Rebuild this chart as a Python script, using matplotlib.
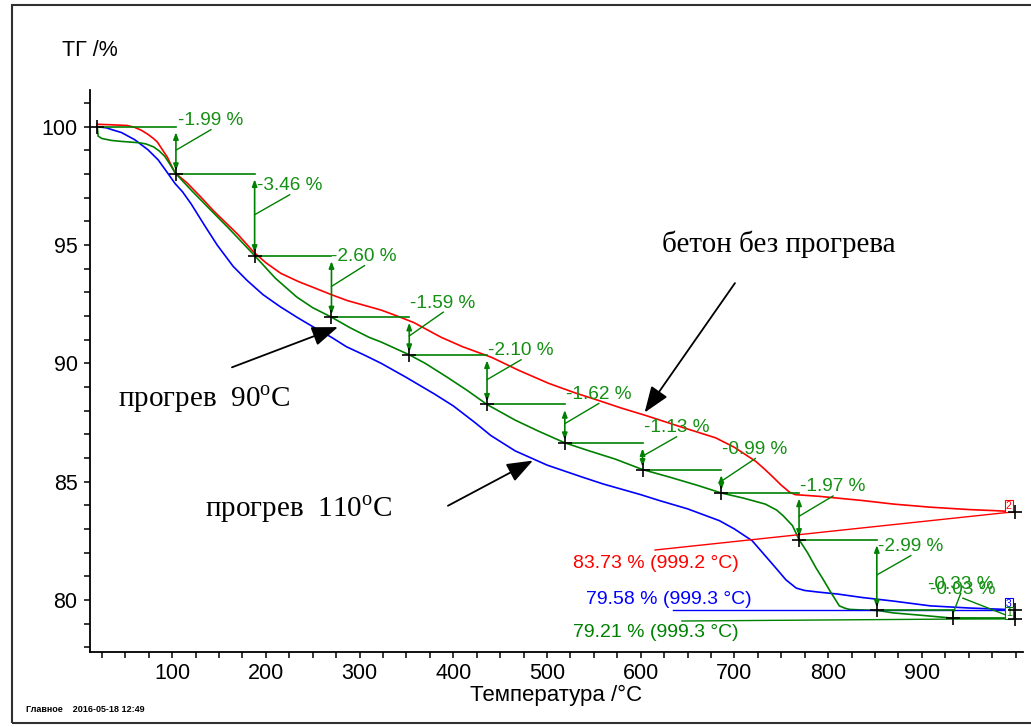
import numpy as np
import matplotlib
matplotlib.use('Agg')
import matplotlib.pyplot as plt
from matplotlib.patches import Rectangle
from matplotlib.ticker import MultipleLocator

plt.rcParams['font.family'] = ['Liberation Sans', 'DejaVu Sans']
plt.rcParams['mathtext.fontset'] = 'custom'
plt.rcParams['mathtext.rm'] = 'Liberation Serif'

RED = '#ff0000'
BLUE = '#0000ff'
GREEN = '#008000'
GREEN_TXT = '#138f13'

# ТГ-кривые: температура (°C) и остаточная масса (%)
# бетон без прогрева
t_red = [20, 35, 52, 60, 67, 74, 80, 84, 90, 95, 98, 103, 116, 130, 144, 157, 170, 187,
         200, 216, 235, 251, 270, 287, 305, 323, 340, 358, 387, 410, 441, 470, 502, 530,
         555, 580, 605, 640, 680, 700, 723, 733, 741, 750, 759, 765, 790, 837, 870, 909,
         950, 980, 999.2]
tg_red = [100.1, 100.08, 100.05, 99.97, 99.85, 99.68, 99.5, 99.36, 99.0, 98.7, 98.45, 98.05,
          97.62, 97.05, 96.45, 95.95, 95.45, 94.7, 94.25, 93.8, 93.45, 93.2, 92.9, 92.65,
          92.45, 92.25, 92.0, 91.72, 91.1, 90.7, 90.25, 89.7, 89.15, 88.75, 88.43, 88.1,
          87.8, 87.35, 86.85, 86.45, 85.85, 85.5, 85.2, 84.85, 84.55, 84.45, 84.38, 84.2,
          84.05, 83.92, 83.82, 83.77, 83.73]

# прогрев 110°C
t_blue = [20, 30, 36, 46, 60, 74, 85, 95, 103, 111, 120, 135, 148, 165, 180, 197, 215, 233,
          250, 270, 286, 305, 323, 350, 380, 400, 423, 440, 466, 500, 537, 560, 600, 620,
          650, 684, 700, 719, 730, 744, 755, 766, 775, 790, 810, 837, 870, 909, 950, 989,
          999.3]
tg_blue = [100.0, 99.95, 99.87, 99.75, 99.45, 99.03, 98.6, 98.05, 97.6, 97.25, 96.75, 95.8,
           95.0, 94.1, 93.5, 92.9, 92.4, 91.95, 91.55, 91.1, 90.7, 90.35, 90.0, 89.4, 88.7,
           88.2, 87.5, 86.95, 86.3, 85.7, 85.2, 84.9, 84.45, 84.2, 83.85, 83.35, 83.0, 82.5,
           82.0, 81.36, 80.85, 80.5, 80.4, 80.33, 80.25, 80.1, 79.95, 79.75, 79.66, 79.6,
           79.58]

# прогрев 90°C
t_green = [20, 21, 25, 35, 45, 55, 65, 72, 80, 86, 92, 97, 104, 120, 140, 160, 188, 210,
           233, 250, 270, 290, 310, 323, 353, 370, 394, 415, 436, 466, 490, 519, 545, 573,
           602, 630, 660, 686, 710, 733, 745, 752, 762, 769, 778, 787, 795, 802, 808, 812,
           818, 823, 834, 852, 870, 900, 933, 960, 999.3]
tg_green = [100.0, 99.6, 99.5, 99.42, 99.38, 99.35, 99.32, 99.27, 99.15, 98.98, 98.75, 98.45,
            98.01, 97.33, 96.52, 95.72, 94.55, 93.6, 92.8, 92.35, 91.95, 91.5, 91.1, 90.9,
            90.36, 90.0, 89.4, 88.85, 88.26, 87.6, 87.15, 86.64, 86.3, 85.95, 85.51, 85.2,
            84.85, 84.52, 84.3, 84.05, 83.8, 83.56, 83.14, 82.55, 82.0, 81.36, 80.85, 80.38,
            80.0, 79.75, 79.65, 79.6, 79.58, 79.56, 79.45, 79.35, 79.23, 79.22, 79.21]

# ступени потери массы (прогрев 90°C)
step_t = [20, 104, 188, 270, 353, 436, 519, 602, 686, 769, 852, 933, 999.3]
step_loss = [-1.99, -3.46, -2.60, -1.59, -2.10, -1.62, -1.13, -0.99, -1.97, -2.99, -0.33, -0.03]

# смещения подписей ступеней, пиксели
label_off = [(2, 6), (2, -12), (0, -1), (1, 14), (1, 4), (1, 10), (1, 15), (1, 20),
             (1, 6), (1, -7), (-25, 26), (-85, 29)]

fig = plt.figure(figsize=(10.31, 7.27), dpi=100)
ax = fig.add_axes([90 / 1031, 1 - 652 / 727, 933 / 1031, 562 / 727])
ax.set_xlim(12.3, 1008)
ax.set_ylim(77.8, 101.55)

ax.plot(t_red, tg_red, color=RED, lw=1.2, zorder=3)
ax.plot(t_blue, tg_blue, color=BLUE, lw=1.2, zorder=3)
ax.plot(t_green, tg_green, color=GREEN, lw=1.2, zorder=3)

# оси
for s in ['top', 'right']:
    ax.spines[s].set_visible(False)
for s in ['left', 'bottom']:
    ax.spines[s].set_linewidth(1.3)
ax.xaxis.set_major_locator(MultipleLocator(100))
ax.xaxis.set_minor_locator(MultipleLocator(25))
ax.yaxis.set_major_locator(MultipleLocator(5))
ax.yaxis.set_minor_locator(MultipleLocator(1))
ax.set_xticks([100, 200, 300, 400, 500, 600, 700, 800, 900])
ax.tick_params(which='both', direction='out', length=4, width=1.1)
ax.tick_params(axis='both', labelsize=15.5)
ax.tick_params(axis='x', pad=4)
ax.tick_params(axis='y', pad=5)

fig.text(62 / 1031, 1 - 50 / 727, 'ТГ /%', ha='left', va='center', fontsize=15.5)
fig.text(556 / 1031, 1 - 695 / 727, 'Температура /°C', ha='center', va='center', fontsize=16)
fig.text(26 / 1031, 1 - 710 / 727, 'Главное    2016-05-18 12:49', ha='left', va='center',
         fontsize=6.5, fontweight='bold')

# рамка
fig.add_artist(Rectangle((12 / 1031, 1 - 723 / 727), 2, 718 / 727, transform=fig.transFigure,
                         fill=False, ec='#303030', lw=1.5))

# ступени
step_m = 100 + np.concatenate([[0], np.cumsum(step_loss)])
ppy = ax.transData.transform((0, 1))[1] - ax.transData.transform((0, 0))[1]
for i, loss in enumerate(step_loss):
    t0, t1 = step_t[i], step_t[i + 1]
    top, bot = step_m[i], step_m[i + 1]
    ax.plot([t0, t1], [top, top], color=GREEN, lw=1.2, zorder=4)
    if (top - bot) * ppy > 14:
        ax.annotate('', xy=(t1, bot), xytext=(t1, top),
                    arrowprops=dict(arrowstyle='<|-|>,head_length=0.4,head_width=0.15',
                                    mutation_scale=10, color=GREEN, lw=1.2,
                                    shrinkA=4, shrinkB=2), zorder=4)
    else:
        ax.plot([t1, t1], [top, bot], color=GREEN, lw=1.2, zorder=4)
    dx, dy = label_off[i]
    ax.annotate(f'{loss:.2f} %', xy=(t1, top), xytext=(dx, dy), textcoords='offset pixels',
                ha='left', va='center', fontsize=13.7, color=GREEN_TXT, zorder=5)
    p_mid = ax.transData.transform((t1, (top + bot) / 2))
    p_lab = ax.transData.transform((t1, top)) + np.array([dx + 33, dy - 9])
    q = ax.transData.inverted().transform(np.array([p_mid, p_lab]))
    ax.plot(q[:, 0], q[:, 1], color=GREEN, lw=1.0, zorder=4)

ax.plot(step_t, step_m, ls='none', marker='+', color='k', ms=10, mew=1.2, zorder=6)
ax.plot([t_red[-1], t_blue[-1]], [tg_red[-1], tg_blue[-1]], ls='none', marker='+',
        color='k', ms=10, mew=1.2, zorder=6)

# итоговые значения
ax.plot([615.3, t_red[-1]], [82.11, tg_red[-1]], color=RED, lw=1.0, zorder=3)
ax.plot([634.5, t_blue[-1]], [tg_blue[-1], tg_blue[-1]], color=BLUE, lw=1.0, zorder=3)
ax.plot([644, t_green[-1]], [79.11, tg_green[-1]], color=GREEN, lw=1.0, zorder=3)
ax.text(527.8, 81.56, f'{tg_red[-1]:.2f} % ({t_red[-1]:.1f} °C)', color=RED,
        fontsize=14, ha='left', va='center')
ax.text(541.6, 80.02, f'{tg_blue[-1]:.2f} % ({t_blue[-1]:.1f} °C)', color=BLUE,
        fontsize=14, ha='left', va='center')
ax.text(527.8, 78.64, f'{tg_green[-1]:.2f} % ({t_green[-1]:.1f} °C)', color=GREEN,
        fontsize=14, ha='left', va='center')

for num, tt, mm, c in [('2', t_red[-1], tg_red[-1], RED),
                       ('3', t_blue[-1], tg_blue[-1], BLUE),
                       ('1', t_green[-1], tg_green[-1], GREEN)]:
    ax.annotate(num, xy=(tt, mm), xytext=(-6, 6), textcoords='offset pixels', fontsize=7.5,
                color=c, ha='center', va='center', zorder=5,
                bbox=dict(boxstyle='square,pad=0.1', fc='white', ec=c, lw=0.8))

# пояснения
serif = ['Liberation Serif', 'DejaVu Serif']
ax.text(622.7, 94.70, 'бетон без прогрева', family=serif, fontsize=21, va='baseline')
ax.text(42.3, 88.15, r'прогрев  90$^{\mathrm{o}}$C', family=serif, fontsize=21, va='baseline')
ax.text(135, 83.5, r'прогрев  110$^{\mathrm{o}}$C', family=serif, fontsize=21, va='baseline')

big = dict(arrowstyle='-|>,head_length=0.8,head_width=0.3', mutation_scale=20, color='k',
           lw=1.3, shrinkA=0, shrinkB=0)
ax.annotate('', xy=(604.2, 87.92), xytext=(700.6, 93.39), arrowprops=big)
ax.annotate('', xy=(276.9, 91.53), xytext=(163.8, 89.83), arrowprops=big)
ax.annotate('', xy=(485.0, 85.89), xytext=(394.3, 83.98), arrowprops=big)

plt.savefig('out.png', dpi=100)
